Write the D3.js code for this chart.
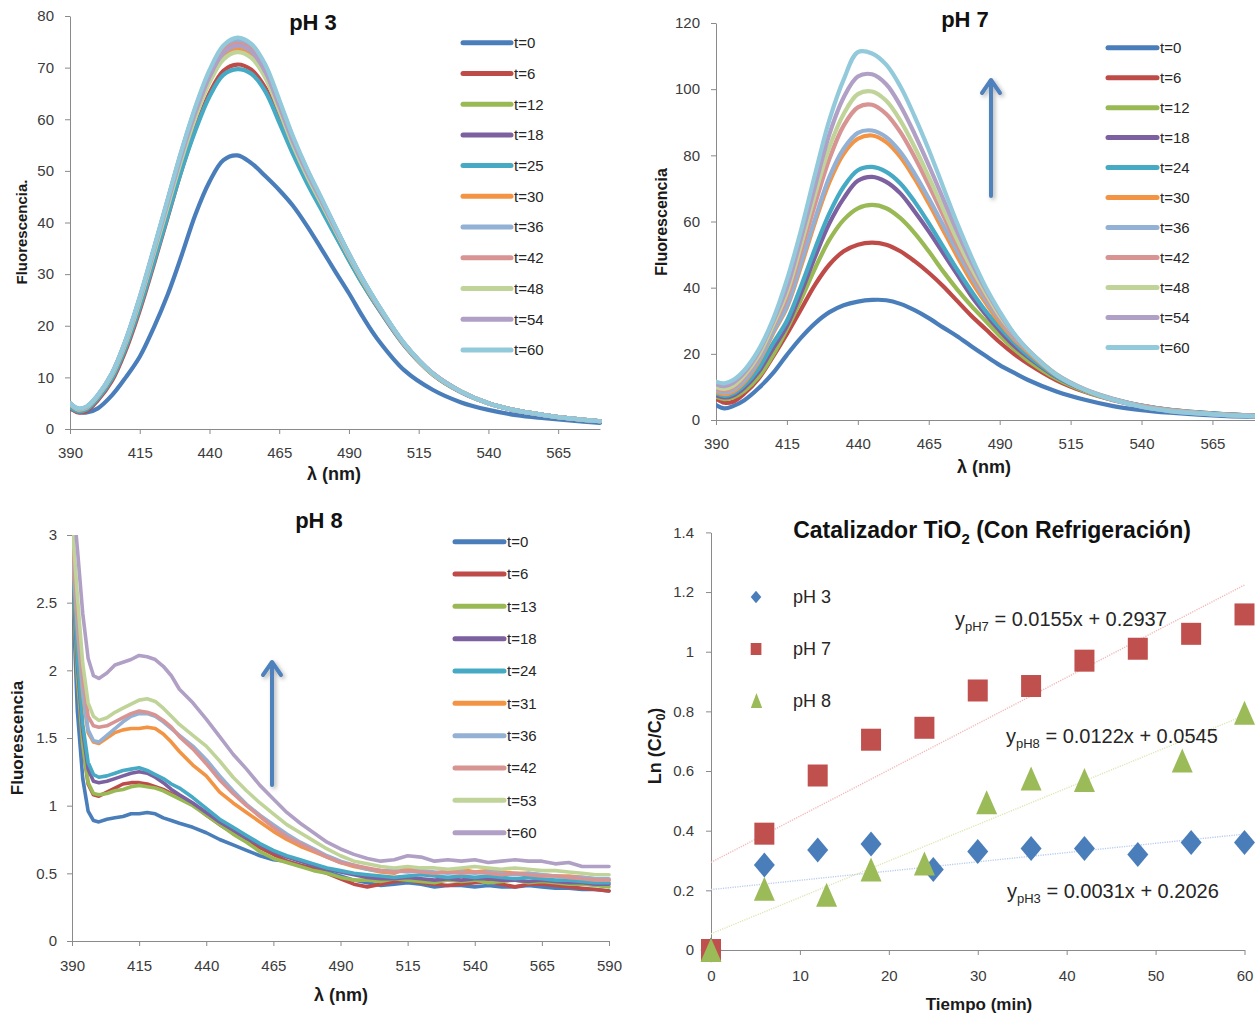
<!DOCTYPE html>
<html>
<head>
<meta charset="utf-8">
<script src="https://cdnjs.cloudflare.com/ajax/libs/d3/7.8.5/d3.min.js"></script>
<style>
  body { margin: 0; background: #ffffff; }
  svg { display: block; }
</style>
</head>
<body>
<script>
// ---------- Emission spectra, pH 3 and pH 7 (wavelength in nm) ----------
const emissionWavelengths = [390,393,396,400,405,410,415,420,425,430,435,440,445,450,455,460,465,470,475,480,485,490,495,500,510,520,530,540,550,560,570,580];

const ph3Labels = ["t=0","t=6","t=12","t=18","t=25","t=30","t=36","t=42","t=48","t=54","t=60"];
const ph3_t0  = [4.0,3.3,3.2,4.0,6.5,10.0,14.0,19.6,26.0,33.6,41.6,47.9,52.1,53.0,51.5,49.0,46.3,43.2,39.3,35.0,30.6,26.3,21.7,17.6,11.3,7.6,5.2,3.7,2.7,2.1,1.6,1.2];
const ph3_t6  = [4.1,3.2,3.5,5.6,9.3,15.3,23.0,31.8,41.0,50.2,58.3,65.0,69.4,70.6,69.6,66.1,60.0,53.7,48.0,42.9,37.8,32.8,28.1,23.8,16.1,10.6,7.2,5.0,3.6,2.7,2.0,1.5];
const ph3_t12 = [4.8,3.8,4.2,6.4,10.5,16.8,24.9,34.0,43.4,52.7,60.9,67.6,72.0,73.2,72.1,68.4,61.9,55.1,49.2,43.9,38.6,33.4,28.6,24.2,16.3,10.7,7.3,5.0,3.6,2.7,2.0,1.5];
const ph3_t18 = [5.0,3.9,4.3,6.5,10.7,17.2,25.4,34.7,44.3,53.8,62.2,69.1,73.8,75.2,74.1,70.2,63.4,56.3,50.2,44.7,39.2,33.9,28.9,24.4,16.4,10.8,7.3,5.0,3.6,2.7,2.0,1.5];
const ph3_t25 = [4.3,3.4,3.8,5.9,9.7,15.8,23.5,32.2,41.2,50.1,57.9,64.4,68.6,69.7,68.8,65.4,59.4,53.2,47.6,42.6,37.6,32.7,28.0,23.8,16.1,10.6,7.2,5.0,3.6,2.7,2.0,1.5];
const ph3_t30 = [4.8,3.8,4.2,6.4,10.5,16.8,24.9,34.0,43.4,52.7,60.9,67.6,72.2,73.6,72.5,68.7,62.1,55.3,49.3,44.0,38.7,33.5,28.6,24.2,16.3,10.7,7.3,5.0,3.6,2.7,2.0,1.5];
const ph3_t36 = [5.0,3.9,4.3,6.5,10.7,17.2,25.4,34.7,44.2,53.7,62.1,69.0,73.7,75.1,74.0,70.1,63.3,56.2,50.1,44.6,39.2,33.9,28.9,24.4,16.4,10.8,7.3,5.0,3.6,2.7,2.0,1.5];
const ph3_t42 = [5.0,3.9,4.3,6.5,10.7,17.1,25.3,34.5,44.0,53.4,61.7,68.6,73.2,74.6,73.5,69.6,62.9,55.9,49.8,44.4,39.0,33.8,28.8,24.3,16.4,10.8,7.3,5.0,3.6,2.7,2.0,1.5];
const ph3_t48 = [4.9,3.8,4.2,6.4,10.4,16.7,24.8,33.9,43.1,52.3,60.4,67.1,71.6,73.0,71.9,68.1,61.7,54.9,49.0,43.8,38.6,33.4,28.6,24.2,16.3,10.7,7.3,5.0,3.6,2.7,2.0,1.5];
const ph3_t54 = [5.0,3.9,4.3,6.5,10.6,17.0,25.2,34.4,43.8,53.1,61.4,68.2,72.8,74.2,73.1,69.2,62.6,55.6,49.6,44.3,38.9,33.7,28.8,24.3,16.4,10.8,7.3,5.0,3.6,2.7,2.0,1.5];
const ph3_t60 = [5.0,4.0,4.4,6.6,10.8,17.3,25.6,34.9,44.5,54.0,62.5,69.5,74.3,75.8,74.6,70.6,63.8,56.6,50.4,44.9,39.4,34.0,29.0,24.5,16.5,10.8,7.3,5.0,3.6,2.7,2.0,1.5];

const ph7Labels = ["t=0","t=6","t=12","t=18","t=24","t=30","t=36","t=42","t=48","t=54","t=60"];
const ph7_t0  = [4.5,3.5,4.2,6.0,9.6,14.1,19.7,24.9,29.3,32.6,34.7,35.8,36.3,36.2,35.1,33.2,30.8,28.0,25.3,22.3,19.4,16.6,14.3,12.1,8.6,6.1,4.2,3.0,2.2,1.6,1.2,1.0];
const ph7_t6  = [6.5,5.2,5.5,8.0,12.5,19.0,26.0,33.5,41.0,47.0,51.0,53.0,53.6,53.0,51.0,48.0,44.5,40.5,36.0,31.5,27.5,23.5,20.0,17.0,12.0,8.5,6.0,4.2,3.0,2.2,1.6,1.2];
const ph7_t12 = [7.0,6.3,6.8,8.8,13.0,19.5,27.5,36.5,46.0,54.5,60.5,64.0,65.0,64.0,61.0,56.5,51.0,45.0,39.5,34.5,30.0,25.5,21.5,18.0,12.5,8.7,6.1,4.3,3.0,2.2,1.7,1.3];
const ph7_t18 = [7.5,6.8,7.4,9.8,14.5,21.5,28.5,38.5,49.5,59.5,67.0,72.3,73.5,72.0,68.5,63.0,57.0,50.5,44.0,37.5,32.0,27.0,22.5,19.0,13.0,9.0,6.3,4.4,3.1,2.3,1.7,1.3];
const ph7_t24 = [8.0,7.3,8.0,10.5,15.5,23.0,30.0,40.5,52.0,62.5,70.5,75.5,76.5,75.0,71.5,66.0,59.5,52.5,45.5,39.0,33.0,28.0,23.5,19.5,13.2,9.1,6.3,4.4,3.1,2.3,1.7,1.3];
const ph7_t30 = [8.5,7.8,8.6,11.5,17.5,26.0,34.0,46.5,60.0,72.0,80.5,85.0,86.0,84.0,79.5,73.0,65.5,57.5,49.5,42.0,35.5,29.5,24.5,20.5,13.5,9.2,6.3,4.3,3.0,2.2,1.6,1.3];
const ph7_t36 = [9.0,8.3,9.1,12.0,18.0,26.5,34.5,47.5,61.0,73.5,82.0,86.8,87.5,85.5,81.0,74.5,67.0,59.0,51.0,43.5,36.5,30.5,25.0,21.0,13.8,9.3,6.4,4.3,3.0,2.2,1.6,1.3];
const ph7_t42 = [9.5,8.9,9.8,13.0,19.0,28.0,37.0,51.0,65.5,79.0,89.0,94.5,95.3,92.5,87.0,79.5,71.0,62.0,53.0,45.0,37.5,31.0,25.5,21.0,13.7,9.2,6.2,4.2,2.9,2.1,1.6,1.2];
const ph7_t48 = [10.0,9.4,10.3,13.5,19.5,28.5,38.5,53.0,68.5,82.5,92.5,98.5,99.3,96.5,90.5,82.5,73.5,64.0,54.5,46.0,38.5,31.5,26.0,21.2,13.7,9.2,6.2,4.1,2.8,2.1,1.5,1.2];
const ph7_t54 = [10.8,10.2,11.2,14.3,20.5,29.5,40.0,55.0,71.0,86.5,97.5,103.8,104.5,101.5,95.0,86.5,77.0,67.0,57.0,47.8,39.5,32.3,26.0,21.2,13.6,9.1,6.1,4.0,2.7,2.0,1.5,1.2];
const ph7_t60 = [11.6,11.1,12.1,15.1,21.2,30.2,42.4,57.5,74.6,90.8,102.9,111.2,110.8,107.4,100.8,91.8,81.7,70.6,59.5,49.4,40.3,32.8,26.2,21.2,13.6,9.1,6.1,4.0,2.7,2.0,1.5,1.2];

// ---------- Emission spectra, pH 8 ----------
const ph8Wavelengths = [390,392,394,396,398,400,403,406,409,412,415,418,421,424,427,430,435,440,445,450,455,460,465,470,475,480,485,490,495,500,505,510,515,520,525,530,535,540,545,550,555,560,565,570,575,580,585,590];
const ph8Labels = ["t=0","t=6","t=13","t=18","t=24","t=31","t=36","t=42","t=53","t=60"];
const ph8_t0  = [2.70,1.70,1.20,0.96,0.89,0.88,0.90,0.91,0.92,0.94,0.94,0.95,0.94,0.91,0.89,0.87,0.84,0.80,0.75,0.71,0.67,0.63,0.60,0.59,0.56,0.54,0.51,0.48,0.45,0.43,0.41,0.42,0.43,0.42,0.40,0.41,0.41,0.40,0.41,0.40,0.40,0.41,0.40,0.39,0.39,0.38,0.38,0.37];
const ph8_t6  = [2.75,1.95,1.45,1.16,1.08,1.07,1.10,1.13,1.16,1.17,1.17,1.16,1.14,1.12,1.09,1.06,1.01,0.93,0.86,0.80,0.75,0.69,0.64,0.59,0.56,0.53,0.50,0.46,0.42,0.40,0.42,0.44,0.45,0.43,0.42,0.41,0.42,0.43,0.44,0.42,0.40,0.42,0.42,0.41,0.40,0.39,0.38,0.37];
const ph8_t13 = [2.75,1.95,1.45,1.17,1.09,1.08,1.09,1.11,1.12,1.14,1.15,1.14,1.13,1.11,1.08,1.05,1.00,0.93,0.86,0.79,0.73,0.66,0.61,0.58,0.55,0.52,0.50,0.47,0.45,0.45,0.44,0.46,0.45,0.44,0.43,0.45,0.44,0.45,0.43,0.44,0.45,0.43,0.44,0.43,0.42,0.42,0.41,0.40];
const ph8_t18 = [2.80,2.05,1.55,1.27,1.18,1.17,1.18,1.20,1.22,1.24,1.25,1.24,1.21,1.17,1.12,1.08,1.02,0.95,0.88,0.82,0.76,0.71,0.66,0.62,0.59,0.56,0.53,0.51,0.49,0.47,0.46,0.46,0.47,0.46,0.45,0.46,0.45,0.46,0.46,0.45,0.45,0.44,0.45,0.44,0.43,0.43,0.42,0.42];
const ph8_t24 = [2.85,2.10,1.60,1.32,1.23,1.21,1.22,1.24,1.26,1.27,1.28,1.26,1.23,1.20,1.16,1.13,1.06,0.98,0.90,0.84,0.78,0.72,0.67,0.63,0.60,0.57,0.54,0.52,0.50,0.49,0.48,0.47,0.48,0.49,0.48,0.47,0.48,0.47,0.48,0.47,0.46,0.47,0.46,0.45,0.45,0.44,0.43,0.43];
const ph8_t31 = [2.90,2.30,1.82,1.54,1.47,1.46,1.50,1.54,1.56,1.57,1.57,1.58,1.57,1.53,1.47,1.40,1.30,1.22,1.10,1.02,0.95,0.88,0.81,0.75,0.70,0.66,0.62,0.58,0.55,0.53,0.51,0.50,0.54,0.52,0.50,0.52,0.53,0.51,0.52,0.51,0.50,0.50,0.49,0.48,0.48,0.47,0.46,0.45];
const ph8_t36 = [2.95,2.35,1.85,1.56,1.48,1.47,1.52,1.57,1.62,1.66,1.68,1.68,1.66,1.62,1.57,1.52,1.44,1.34,1.22,1.11,1.01,0.93,0.86,0.79,0.73,0.68,0.63,0.59,0.56,0.53,0.52,0.52,0.51,0.52,0.51,0.50,0.51,0.50,0.51,0.50,0.49,0.50,0.49,0.48,0.47,0.47,0.46,0.46];
const ph8_t42 = [3.00,2.45,1.95,1.66,1.59,1.58,1.59,1.62,1.65,1.68,1.70,1.69,1.67,1.63,1.58,1.51,1.42,1.31,1.19,1.09,1.00,0.92,0.84,0.77,0.72,0.67,0.62,0.58,0.56,0.54,0.52,0.51,0.52,0.51,0.50,0.51,0.50,0.51,0.50,0.49,0.50,0.49,0.48,0.48,0.47,0.46,0.45,0.45];
const ph8_t53 = [3.10,2.55,2.05,1.76,1.66,1.63,1.65,1.69,1.72,1.75,1.78,1.79,1.77,1.72,1.66,1.60,1.52,1.44,1.33,1.21,1.11,1.02,0.94,0.86,0.80,0.74,0.68,0.63,0.59,0.57,0.55,0.54,0.55,0.54,0.54,0.53,0.54,0.55,0.54,0.53,0.54,0.53,0.52,0.52,0.51,0.50,0.49,0.49];
const ph8_t60 = [3.35,2.90,2.42,2.09,1.96,1.94,1.98,2.04,2.06,2.08,2.11,2.10,2.08,2.03,1.96,1.86,1.76,1.64,1.51,1.38,1.27,1.15,1.05,0.95,0.87,0.80,0.73,0.68,0.64,0.61,0.59,0.60,0.63,0.62,0.59,0.60,0.59,0.60,0.58,0.59,0.60,0.59,0.59,0.57,0.58,0.55,0.55,0.55];

// ---------- Kinetics: Ln(C/C0) vs time (min) ----------
const kineticSeries = ["pH 3","pH 7","pH 8"];
const ph3Time = [0,6,12,18,25,30,36,42,48,54,60];
const ph3LnC  = [0,0.285,0.335,0.355,0.27,0.33,0.34,0.34,0.32,0.36,0.36];
const ph7Time = [0,6,12,18,24,30,36,42,48,54,60];
const ph7LnC  = [0,0.39,0.585,0.705,0.745,0.87,0.885,0.97,1.01,1.06,1.125];
const ph8Time = [0,6,13,18,24,31,36,42,53,60];
const ph8LnC  = [0,0.205,0.185,0.27,0.29,0.495,0.575,0.57,0.635,0.795];
const trendSlopes     = [0.0031,0.0155,0.0122];
const trendIntercepts = [0.2026,0.2937,0.0545];
const trendSubscripts = ["pH3","pH7","pH8"];

// Axis tick values
const spectrumTicksX = [390,415,440,465,490,515,540,565];
const ph8TicksX = [390,415,440,465,490,515,540,565,590];
const ph3TicksY = [0,10,20,30,40,50,60,70,80];
const ph7TicksY = [0,20,40,60,80,100,120];
const ph8TicksY = [0,0.5,1,1.5,2,2.5,3];
const kineticTicksX = [0,10,20,30,40,50,60];
const kineticTicksY = [0,0.2,0.4,0.6,0.8,1,1.2,1.4];

// Office-style series palette
const seriesColors = ["#4A7EBB","#BE4B48","#98B954","#7D60A0","#46AAC5","#F39444","#93B0D5","#D79493","#C0D499","#B0A0C5","#92CADB"];
const kineticColors = ["#4A7EBB","#C0504D","#9BBB59"];
const trendColors = ["#B9CDEE","#F2B8B7","#DFE6B4"];

const FONT = "'Liberation Sans', Arial, Helvetica, sans-serif";
const TICK_COLOR = "#3b3b3b";
const AXIS_COLOR = "#8a8a8a";

const svg = d3.select("body").append("svg")
  .attr("width", 1255).attr("height", 1016)
  .style("font-family", FONT);
const defs = svg.append("defs");

const shadow = defs.append("filter").attr("id", "arrowShadow")
  .attr("x", "-50%").attr("y", "-20%").attr("width", "200%").attr("height", "140%");
shadow.append("feDropShadow").attr("dx", 2).attr("dy", 2)
  .attr("stdDeviation", 2).attr("flood-color", "#000").attr("flood-opacity", 0.3);

function styleAxis(g, fontSize) {
  g.select(".domain").attr("stroke", AXIS_COLOR).attr("stroke-width", 1);
  g.selectAll(".tick line").attr("stroke", AXIS_COLOR);
  g.selectAll(".tick text").attr("fill", TICK_COLOR)
    .style("font-size", fontSize + "px").style("font-family", FONT);
}

function drawAxes(x, y, p) {
  const gx = svg.append("g").attr("transform", `translate(0,${p.bottom})`)
    .call(d3.axisBottom(x).tickValues(p.ticksX).tickSize(5).tickSizeOuter(0)
      .tickPadding(p.padX).tickFormat(d3.format("")));
  styleAxis(gx, 15);
  const gy = svg.append("g").attr("transform", `translate(${p.left},0)`)
    .call(d3.axisLeft(y).tickValues(p.ticksY).tickSize(5).tickSizeOuter(0)
      .tickPadding(p.padY).tickFormat(d3.format("")));
  styleAxis(gy, 15);
}

function axisTitles(p) {
  svg.append("text").attr("x", p.xTitle[0]).attr("y", p.xTitle[1])
    .attr("text-anchor", "middle").attr("font-weight", "bold")
    .style("font-size", p.xTitleSize + "px").attr("fill", "#1a1a1a").text(p.xTitleText);
  const yt = svg.append("text")
    .attr("transform", `translate(${p.yTitle[0]},${p.yTitle[1]}) rotate(-90)`)
    .attr("text-anchor", "middle").attr("font-weight", "bold")
    .style("font-size", p.yTitleSize + "px").attr("fill", "#1a1a1a");
  if (p.yTitleBuild) p.yTitleBuild(yt); else yt.text(p.yTitleText);
}

function drawArrow(xPos, yTip, yTail) {
  const g = svg.append("g").attr("filter", "url(#arrowShadow)")
    .attr("stroke", "#4F81BD").attr("stroke-width", 4).attr("fill", "none")
    .attr("stroke-linecap", "round").attr("stroke-linejoin", "round");
  g.append("line").attr("x1", xPos).attr("x2", xPos).attr("y1", yTail).attr("y2", yTip + 2);
  g.append("path").attr("d", `M${xPos - 9},${yTip + 13} L${xPos},${yTip} L${xPos + 9},${yTip + 13}`);
}

function spectrumPanel(p) {
  const x = d3.scaleLinear().domain(p.xDomain).range([p.left, p.right]);
  const y = d3.scaleLinear().domain(p.yDomain).range([p.bottom, p.top]);

  const clipId = "clip-" + p.id;
  defs.append("clipPath").attr("id", clipId).append("rect")
    .attr("x", p.left).attr("y", p.top).attr("width", p.right - p.left + 2).attr("height", p.bottom - p.top);

  drawAxes(x, y, p);

  const line = d3.line()
    .x((d, i) => x(p.wavelengths[i]))
    .y(d => y(d))
    .curve(p.curve);

  svg.append("g").attr("clip-path", `url(#${clipId})`)
    .selectAll("path").data(p.series).join("path")
    .attr("d", d => line(d))
    .attr("fill", "none")
    .attr("stroke", (d, i) => seriesColors[i])
    .attr("stroke-width", p.lineWidth)
    .attr("stroke-linejoin", "round")
    .attr("stroke-linecap", "round");

  // legend
  const lg = svg.append("g");
  p.labels.forEach((lab, i) => {
    const yy = p.legendY0 + i * p.legendStep;
    lg.append("line").attr("x1", p.legendX1).attr("x2", p.legendX2)
      .attr("y1", yy).attr("y2", yy)
      .attr("stroke", seriesColors[i]).attr("stroke-width", 5).attr("stroke-linecap", "round");
    lg.append("text").attr("x", p.legendX2 + 3).attr("y", yy).attr("dy", "0.36em")
      .style("font-size", "15px").attr("fill", "#262626").text(lab);
  });

  svg.append("text").attr("x", p.titlePos[0]).attr("y", p.titlePos[1])
    .attr("text-anchor", "middle").attr("font-weight", "bold")
    .style("font-size", "22px").attr("fill", "#111").text(p.title);

  axisTitles(p);
}

// pH 3
spectrumPanel({
  id: "ph3", title: "pH 3", titlePos: [313, 30],
  left: 70, right: 600, top: 16, bottom: 429,
  xDomain: [390, 580], yDomain: [0, 80],
  ticksX: spectrumTicksX, ticksY: ph3TicksY, padX: 13, padY: 11,
  wavelengths: emissionWavelengths,
  series: [ph3_t0, ph3_t6, ph3_t12, ph3_t18, ph3_t25, ph3_t30, ph3_t36, ph3_t42, ph3_t48, ph3_t54, ph3_t60],
  labels: ph3Labels, curve: d3.curveCatmullRom.alpha(0.5), lineWidth: 4.2,
  legendX1: 463, legendX2: 511, legendY0: 42.7, legendStep: 30.73,
  xTitle: [334, 480], xTitleSize: 18, xTitleText: "λ (nm)",
  yTitle: [27, 232], yTitleSize: 15, yTitleText: "Fluorescencia."
});

// pH 7
spectrumPanel({
  id: "ph7", title: "pH 7", titlePos: [965, 27],
  left: 716, right: 1255, top: 23, bottom: 420,
  xDomain: [390, 580], yDomain: [0, 120],
  ticksX: spectrumTicksX, ticksY: ph7TicksY, padX: 13, padY: 11,
  wavelengths: emissionWavelengths,
  series: [ph7_t0, ph7_t6, ph7_t12, ph7_t18, ph7_t24, ph7_t30, ph7_t36, ph7_t42, ph7_t48, ph7_t54, ph7_t60],
  labels: ph7Labels, curve: d3.curveCatmullRom.alpha(0.5), lineWidth: 4.2,
  legendX1: 1108, legendX2: 1157, legendY0: 47.7, legendStep: 29.97,
  xTitle: [984, 473], xTitleSize: 18, xTitleText: "λ (nm)",
  yTitle: [667, 222], yTitleSize: 16, yTitleText: "Fluorescencia"
});
drawArrow(991, 80, 196);

// pH 8
spectrumPanel({
  id: "ph8", title: "pH 8", titlePos: [319, 528],
  left: 72, right: 609, top: 535, bottom: 941,
  xDomain: [390, 590], yDomain: [0, 3],
  ticksX: ph8TicksX, ticksY: ph8TicksY, padX: 14, padY: 10,
  wavelengths: ph8Wavelengths,
  series: [ph8_t0, ph8_t6, ph8_t13, ph8_t18, ph8_t24, ph8_t31, ph8_t36, ph8_t42, ph8_t53, ph8_t60],
  labels: ph8Labels, curve: d3.curveLinear, lineWidth: 3.6,
  legendX1: 455, legendX2: 504, legendY0: 541.7, legendStep: 32.33,
  xTitle: [341, 1001], xTitleSize: 18, xTitleText: "λ (nm)",
  yTitle: [23, 738], yTitleSize: 17, yTitleText: "Fluorescencia"
});
drawArrow(272, 662, 785);

// ---------- Kinetics panel ----------
(function kineticPanel() {
  const p = {
    left: 711, right: 1244.5, top: 532.4, bottom: 950,
    ticksX: kineticTicksX, ticksY: kineticTicksY, padX: 15, padY: 12
  };
  const x = d3.scaleLinear().domain([0, 60]).range([p.left, p.right]);
  const y = d3.scaleLinear().domain([0, 1.4]).range([p.bottom, p.top]);
  drawAxes(x, y, p);

  // linear fits, drawn as dotted lines over the full time range
  const trend = svg.append("g");
  trendSlopes.forEach((m, i) => {
    trend.append("line")
      .attr("x1", x(0)).attr("y1", y(trendIntercepts[i]))
      .attr("x2", x(60)).attr("y2", y(trendIntercepts[i] + m * 60))
      .attr("stroke", trendColors[i]).attr("stroke-width", 1.4)
      .attr("stroke-dasharray", "1.2,1.2");
  });

  const diamond = "M0,-12.5L10.5,0L0,12.5L-10.5,0Z";
  const triangle = "M0,-12L10.5,12L-10.5,12Z";

  const marks = svg.append("g");
  marks.selectAll(".d3m").data(ph3Time).join("path")
    .attr("transform", (d, i) => `translate(${x(d)},${y(ph3LnC[i])})`)
    .attr("d", diamond).attr("fill", kineticColors[0]);
  marks.selectAll(".d7m").data(ph7Time).join("rect")
    .attr("x", d => x(d) - 10).attr("y", (d, i) => y(ph7LnC[i]) - 11)
    .attr("width", 20).attr("height", 22).attr("fill", kineticColors[1]);
  marks.selectAll(".d8m").data(ph8Time).join("path")
    .attr("transform", (d, i) => `translate(${x(d)},${y(ph8LnC[i])})`)
    .attr("d", triangle).attr("fill", kineticColors[2]);

  // legend
  const legendY = [597, 649, 700.5];
  const lg = svg.append("g");
  lg.append("path").attr("transform", `translate(756,${legendY[0]})`)
    .attr("d", "M0,-6.3L5.3,0L0,6.3L-5.3,0Z").attr("fill", kineticColors[0]);
  lg.append("rect").attr("x", 750.7).attr("y", legendY[1] - 6).attr("width", 10.7).attr("height", 12)
    .attr("fill", kineticColors[1]);
  lg.append("path").attr("transform", `translate(756.5,${legendY[2]})`)
    .attr("d", "M0,-7.5L5.7,7.5L-5.7,7.5Z").attr("fill", kineticColors[2]);
  kineticSeries.forEach((s, i) => {
    lg.append("text").attr("x", 793).attr("y", legendY[i]).attr("dy", "0.36em")
      .style("font-size", "18px").attr("fill", "#262626").text(s);
  });

  // fitted equations
  const eqPos = [[1007, 898], [955, 626], [1006, 743]];
  trendSlopes.forEach((m, i) => {
    const t = svg.append("text").attr("x", eqPos[i][0]).attr("y", eqPos[i][1])
      .style("font-size", "20px").attr("fill", "#262626");
    t.append("tspan").text("y");
    t.append("tspan").attr("dy", 5).style("font-size", "13px").text(trendSubscripts[i]);
    t.append("tspan").attr("dy", -5).text(` = ${m.toFixed(4)}x + ${trendIntercepts[i].toFixed(4)}`);
  });

  // title
  const title = svg.append("text").attr("x", 992).attr("y", 538).attr("text-anchor", "middle")
    .attr("font-weight", "bold").style("font-size", "23px").attr("fill", "#111");
  title.append("tspan").text("Catalizador TiO");
  title.append("tspan").attr("dy", 6).style("font-size", "15px").text("2");
  title.append("tspan").attr("dy", -6).text(" (Con Refrigeración)");

  axisTitles({
    xTitle: [979, 1010], xTitleSize: 17, xTitleText: "Tiempo (min)",
    yTitle: [661, 746], yTitleSize: 18,
    yTitleBuild: t => {
      t.append("tspan").text("Ln (C/C");
      t.append("tspan").attr("dy", 4).style("font-size", "12px").text("0");
      t.append("tspan").attr("dy", -4).text(")");
    }
  });
})();
</script>
</body>
</html>
